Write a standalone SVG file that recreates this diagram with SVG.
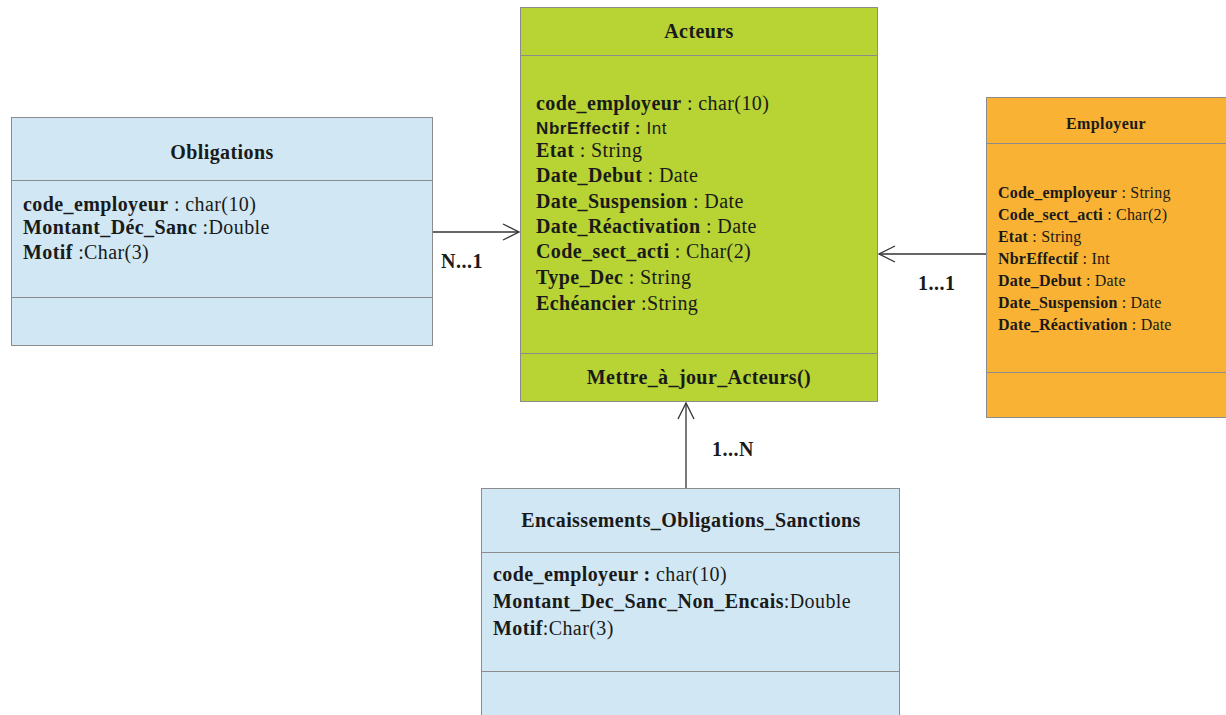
<svg xmlns="http://www.w3.org/2000/svg" width="1226" height="715" viewBox="0 0 1226 715">
  <style>
    text { font-family: "Liberation Serif", "Times New Roman", serif; fill: #1a1a1a; }
    .box { stroke: #8c8c8c; stroke-width: 1; }
    .blue { fill: #d1e8f4; }
    .green { fill: #b7d334; }
    .orange { fill: #f9b233; }
    .div { stroke: #8c8c8c; stroke-width: 1; }
    .title { font-weight: bold; font-size: 20px; text-anchor: middle; letter-spacing: 0.4px; }
    .attr { font-size: 20px; letter-spacing: 0.4px; }
    .attr-s { font-size: 16px; letter-spacing: 0.2px; }
    .sans { font-family: "Liberation Sans", Arial, sans-serif; font-size: 17px; letter-spacing: 0.6px; }
    .b { font-weight: bold; }
    .link { stroke: #333; stroke-width: 1.3; fill: none; }
    .mult { font-weight: bold; font-size: 20px; letter-spacing: 0.5px; }
  </style>
  <defs>
    <marker id="open" viewBox="0 0 20 20" refX="18" refY="10" markerWidth="20" markerHeight="20" markerUnits="userSpaceOnUse" orient="auto">
      <path d="M2 2 L18 10 L2 18" fill="none" stroke="#333" stroke-width="1.3"/>
    </marker>
  </defs>

  <rect width="1226" height="715" fill="#ffffff"/>

  <!-- associations -->
  <g id="connectors">
    <line class="link" x1="433" y1="232" x2="519" y2="232" marker-end="url(#open)"/>
    <text class="mult" x="441" y="268">N...1</text>
    <line class="link" x1="986" y1="254" x2="879" y2="254" marker-end="url(#open)"/>
    <text class="mult" x="918" y="290">1...1</text>
    <line class="link" x1="686" y1="488" x2="686" y2="403" marker-end="url(#open)"/>
    <text class="mult" x="712" y="456">1...N</text>
  </g>

  <!-- class Obligations -->
  <g id="obligations">
    <rect class="box blue" x="11.5" y="117.5" width="421" height="228"/>
    <line class="div" x1="11.5" y1="180.5" x2="432.5" y2="180.5"/>
    <line class="div" x1="11.5" y1="297.5" x2="432.5" y2="297.5"/>
    <text class="title" x="222" y="159">Obligations</text>
    <text class="attr" x="23" y="211"><tspan class="b">code_employeur</tspan> : char(10)</text>
    <text class="attr" x="23" y="234"><tspan class="b">Montant_Déc_Sanc</tspan> :Double</text>
    <text class="attr" x="23" y="259"><tspan class="b">Motif</tspan> :Char(3)</text>
  </g>

  <!-- class Acteurs -->
  <g id="acteurs">
    <rect class="box green" x="520.5" y="7.5" width="357" height="394"/>
    <line class="div" x1="520.5" y1="55.5" x2="877.5" y2="55.5"/>
    <line class="div" x1="520.5" y1="353.5" x2="877.5" y2="353.5"/>
    <text class="title" x="699" y="38">Acteurs</text>
    <text class="attr" x="536" y="110"><tspan class="b">code_employeur</tspan> : char(10)</text>
    <text class="sans" x="536" y="134"><tspan class="b">NbrEffectif :</tspan> Int</text>
    <text class="attr" x="536" y="157"><tspan class="b">Etat</tspan> : String</text>
    <text class="attr" x="536" y="182"><tspan class="b">Date_Debut</tspan> : Date</text>
    <text class="attr" x="536" y="208"><tspan class="b">Date_Suspension</tspan> : Date</text>
    <text class="attr" x="536" y="233"><tspan class="b">Date_Réactivation</tspan> : Date</text>
    <text class="attr" x="536" y="258"><tspan class="b">Code_sect_acti</tspan> : Char(2)</text>
    <text class="attr" x="536" y="284"><tspan class="b">Type_Dec</tspan> : String</text>
    <text class="attr" x="536" y="310"><tspan class="b">Echéancier</tspan> :String</text>
    <text class="title" x="699" y="384">Mettre_à_jour_Acteurs()</text>
  </g>

  <!-- class Employeur -->
  <g id="employeur">
    <rect class="box orange" x="986.5" y="97.5" width="240" height="320"/>
    <line class="div" x1="986.5" y1="143.5" x2="1226" y2="143.5"/>
    <line class="div" x1="986.5" y1="372.5" x2="1226" y2="372.5"/>
    <text class="title" x="1106" y="129" style="font-size:16px">Employeur</text>
    <text class="attr-s" x="998" y="198"><tspan class="b">Code_employeur</tspan> : String</text>
    <text class="attr-s" x="998" y="220"><tspan class="b">Code_sect_acti</tspan> : Char(2)</text>
    <text class="attr-s" x="998" y="242"><tspan class="b">Etat</tspan> : String</text>
    <text class="attr-s" x="998" y="264"><tspan class="b">NbrEffectif</tspan> : Int</text>
    <text class="attr-s" x="998" y="286"><tspan class="b">Date_Debut</tspan> : Date</text>
    <text class="attr-s" x="998" y="308"><tspan class="b">Date_Suspension</tspan> : Date</text>
    <text class="attr-s" x="998" y="330"><tspan class="b">Date_Réactivation</tspan> : Date</text>
  </g>

  <!-- class Encaissements_Obligations_Sanctions -->
  <g id="encaissements">
    <rect class="box blue" x="481.5" y="488.5" width="418" height="240"/>
    <line class="div" x1="481.5" y1="552.5" x2="899.5" y2="552.5"/>
    <line class="div" x1="481.5" y1="671.5" x2="899.5" y2="671.5"/>
    <text class="title" x="691" y="527">Encaissements_Obligations_Sanctions</text>
    <text class="attr" x="493" y="581"><tspan class="b">code_employeur :</tspan> char(10)</text>
    <text class="attr" x="493" y="608"><tspan class="b">Montant_Dec_Sanc_Non_Encais</tspan>:Double</text>
    <text class="attr" x="493" y="635"><tspan class="b">Motif</tspan>:Char(3)</text>
  </g>
</svg>
